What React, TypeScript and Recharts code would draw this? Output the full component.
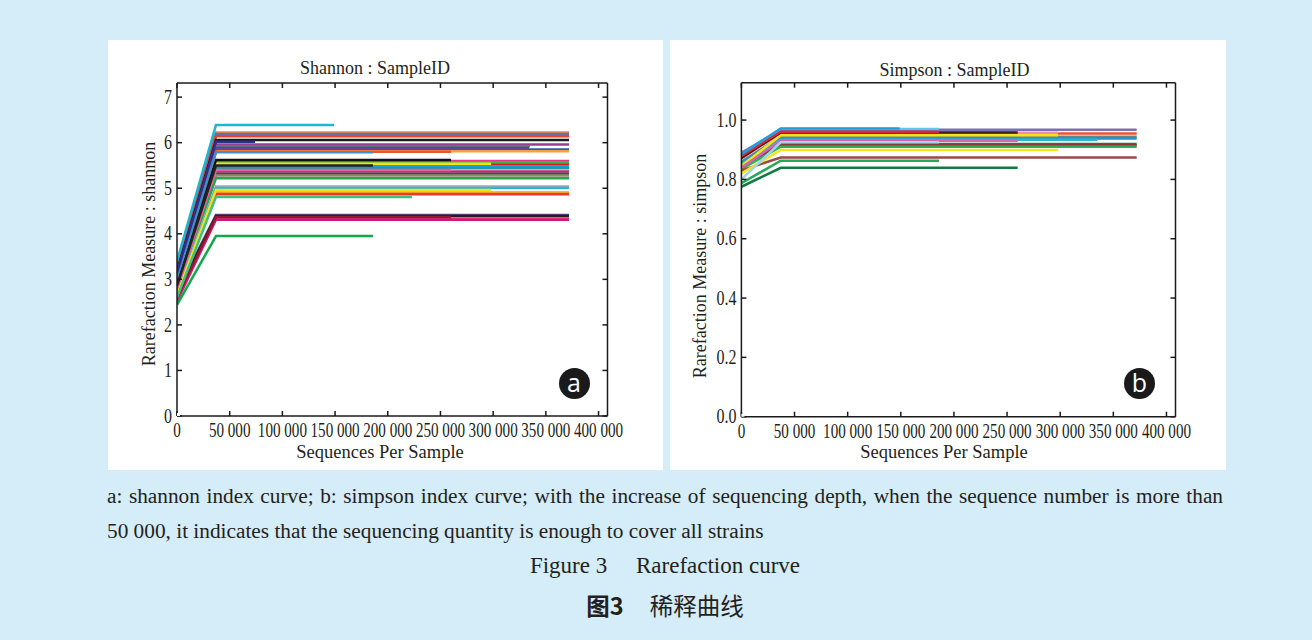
import { LineChart, Line, XAxis, YAxis } from 'recharts'

// x ticks shared by both panels
const X_TICKS = [0, 50000, 100000, 150000, 200000, 250000, 300000, 350000, 400000]
const X_DOMAIN = [0, 408500]
const FIRST_DEPTH = 37000

const SHANNON_TICKS = [0, 1, 2, 3, 4, 5, 6, 7]
const SIMPSON_TICKS = [0, 0.2, 0.4, 0.6, 0.8, 1.0]

// Shannon curves: start value, plateau value, max sequencing depth
const shannonColors = [
  '#1cb6cf', '#f08a3c', '#6b6bb5', '#e8412c', '#1a1a1a', '#2b2f8f', '#9a3d8f', '#2ca05a',
  '#6a3d9a', '#1f5fbf', '#3f8fc4', '#e8562c', '#f5a040', '#111111', '#e8358a', '#3cb44b',
  '#f2e21a', '#e31a1c', '#222222', '#1aa0d8', '#1b9e9e', '#ef5aa0', '#d0207a', '#4a4a4a',
  '#8c8c6a', '#1faa50', '#f0a0b0', '#22b8d8', '#f2e21e', '#f39a2a', '#e8392c', '#3fbf80',
  '#5a4a8a', '#2a1a1a', '#8b1a2a', '#ee3a8c', '#d01a7a', '#12a84a',
]
const shannonStart = [
  3.40, 3.30, 3.26, 3.22, 3.18, 3.15, 3.12, 3.10,
  3.07, 3.05, 3.02, 3.00, 2.98, 2.95, 2.94, 2.92,
  2.90, 2.88, 2.86, 2.84, 2.83, 2.80, 2.78, 2.76,
  2.74, 2.71, 2.70, 2.68, 2.66, 2.64, 2.62, 2.60,
  2.72, 2.66, 2.60, 2.56, 2.52, 2.44,
]
const shannonPlateau = [
  6.39, 6.225, 6.19, 6.14, 6.06, 6.02, 5.96, 5.92,
  5.89, 5.85, 5.79, 5.80, 5.81, 5.62, 5.60, 5.57,
  5.54, 5.52, 5.50, 5.47, 5.44, 5.40, 5.37, 5.32,
  5.28, 5.22, 5.045, 5.01, 4.96, 4.905, 4.87, 4.81,
  4.415, 4.39, 4.37, 4.335, 4.31, 3.95,
]
const shannonDepth = [
  149000, 372000, 372000, 372000, 372000, 74000, 372000, 335000,
  334000, 372000, 186000, 260000, 372000, 260000, 372000, 372000,
  298000, 372000, 186000, 372000, 372000, 260000, 372000, 372000,
  372000, 372000, 372000, 372000, 298000, 372000, 372000, 223000,
  372000, 372000, 260000, 372000, 372000, 186000,
]

// Simpson curves
const simpsonColors = [
  '#1ca0e0', '#5bc8f0', '#7a6fb0', '#f0502a', '#f08ab0', '#3a1a1a', '#d8283a', '#f7e11a',
  '#5a8a8a', '#2a90d0', '#2ab8c8', '#e060b0', '#1a7a4a', '#8a3a3a', '#30b050', '#f5e51e',
  '#9a4a4a', '#9ad8e8', '#22aa55', '#107a40',
]
const simpsonStart = [
  0.885, 0.88, 0.89, 0.875, 0.87, 0.872, 0.878, 0.845,
  0.86, 0.855, 0.85, 0.84, 0.85, 0.845, 0.835, 0.82,
  0.83, 0.80, 0.787, 0.775,
]
const simpsonPlateau = [
  0.972, 0.970, 0.967, 0.955, 0.957, 0.958, 0.961, 0.949,
  0.944, 0.938, 0.934, 0.930, 0.919, 0.915, 0.910, 0.899,
  0.874, 0.925, 0.863, 0.839,
]
const simpsonDepth = [
  149000, 186000, 372000, 372000, 298000, 260000, 186000, 298000,
  372000, 372000, 335000, 260000, 372000, 372000, 372000, 298000,
  372000, 186000, 186000, 260000,
]

const SERIF = '"Liberation Serif", "Times New Roman", serif'
const INK = '#231f20'

function buildSeries(colors: string[], starts: number[], plateaus: number[], depths: number[]) {
  return colors
    .map((color, i) => ({
      id: i,
      color,
      depth: depths[i],
      points: [
        { x: 0, y: starts[i] },
        { x: FIRST_DEPTH, y: plateaus[i] },
        { x: depths[i], y: plateaus[i] },
      ],
    }))
    // short curves sit on top of long ones
    .sort((a, b) => b.depth - a.depth)
}

const fmtX = (v: number) => (v === 0 ? '0' : `${v / 1000} 000`)

function XTick(props: any) {
  const { x, y, payload } = props
  return (
    <text
      transform={`translate(${x},${y}) scale(0.72,1)`}
      textAnchor="middle"
      dy="0.71em"
      fontSize={21}
      fontFamily={SERIF}
      fill={INK}
    >
      {fmtX(payload.value)}
    </text>
  )
}

function makeYTick(fmt: (v: number) => string) {
  return function YTick(props: any) {
    const { x, y, payload } = props
    return (
      <text
        transform={`translate(${x},${y}) scale(0.8,1)`}
        textAnchor="end"
        dy="0.33em"
        fontSize={20}
        fontFamily={SERIF}
        fill={INK}
      >
        {fmt(payload.value)}
      </text>
    )
  }
}

const EmptyTick = () => <g />

interface PanelProps {
  left: number
  width: number
  plot: { left: number; top: number; width: number; height: number }
  title: string
  titlePos: [number, number]
  yLabel: string
  yLabelPos: [number, number]
  xLabelPos: [number, number]
  yDomain: number[]
  yTicks: number[]
  yFmt: (v: number) => string
  series: ReturnType<typeof buildSeries>
  badge: string
  badgePos: [number, number]
}

const PANEL_TOP = 40
const PANEL_H = 430

function Panel(p: PanelProps) {
  const axisStroke = { stroke: '#1a1a1a', strokeWidth: 1.5 }
  const YTick = makeYTick(p.yFmt)
  // anchor point so the mirrored top/right axes get drawn
  const frameAnchor = [{ x: 0, y: 0 }]
  return (
    <div style={{ position: 'absolute', left: p.left, top: PANEL_TOP, width: p.width, height: PANEL_H, background: '#fff' }}>
      <LineChart
        width={p.width}
        height={PANEL_H}
        margin={{ top: p.plot.top - 1, left: 0, bottom: 0, right: p.width - p.plot.left - p.plot.width - 1 }}
      >
        <XAxis
          dataKey="x"
          type="number"
          domain={X_DOMAIN}
          ticks={X_TICKS}
          allowDataOverflow
          height={PANEL_H - p.plot.top - p.plot.height}
          axisLine={axisStroke}
          tickLine={axisStroke}
          tickSize={-5}
          tickMargin={11}
          tick={<XTick />}
          interval={0}
        />
        <XAxis
          xAxisId="top"
          dataKey="x"
          orientation="top"
          type="number"
          domain={X_DOMAIN}
          ticks={X_TICKS}
          allowDataOverflow
          height={1}
          axisLine={axisStroke}
          tickLine={axisStroke}
          tickSize={-5}
          tick={<EmptyTick />}
          interval={0}
        />
        <YAxis
          type="number"
          domain={p.yDomain}
          ticks={p.yTicks}
          allowDataOverflow
          width={p.plot.left}
          axisLine={axisStroke}
          tickLine={axisStroke}
          tickSize={-5}
          tickMargin={10}
          tick={<YTick />}
          interval={0}
        />
        <YAxis
          yAxisId="right"
          orientation="right"
          type="number"
          domain={p.yDomain}
          ticks={p.yTicks}
          allowDataOverflow
          width={1}
          axisLine={axisStroke}
          tickLine={axisStroke}
          tickSize={-5}
          tick={<EmptyTick />}
          interval={0}
        />
        <Line
          xAxisId="top"
          yAxisId="right"
          data={frameAnchor}
          dataKey="y"
          stroke="none"
          dot={false}
          activeDot={false}
          isAnimationActive={false}
        />
        {p.series.map(s => (
          <Line
            key={s.id}
            data={s.points}
            dataKey="y"
            type="linear"
            stroke={s.color}
            strokeWidth={2.5}
            dot={false}
            activeDot={false}
            isAnimationActive={false}
          />
        ))}
      </LineChart>

      <div style={{ position: 'absolute', left: p.titlePos[0], top: p.titlePos[1], transform: 'translate(-50%,-50%)', whiteSpace: 'nowrap', fontFamily: SERIF, fontSize: 18, color: INK }}>
        {p.title}
      </div>
      <div style={{ position: 'absolute', left: p.yLabelPos[0], top: p.yLabelPos[1], transform: 'translate(-50%,-50%) rotate(-90deg)', whiteSpace: 'nowrap', fontFamily: SERIF, fontSize: 18, color: INK }}>
        {p.yLabel}
      </div>
      <div style={{ position: 'absolute', left: p.xLabelPos[0], top: p.xLabelPos[1], transform: 'translate(-50%,-50%)', whiteSpace: 'nowrap', fontFamily: SERIF, fontSize: 18.5, color: INK }}>
        Sequences Per Sample
      </div>
      <div style={{ position: 'absolute', left: p.badgePos[0] - 15.5, top: p.badgePos[1] - 15.5, width: 31, height: 31, borderRadius: '50%', background: '#1a1a1a', color: '#fff', fontFamily: '"Open Sans", sans-serif', fontSize: 25, fontWeight: 500, lineHeight: '29px', textAlign: 'center' }}>
        {p.badge}
      </div>
    </div>
  )
}

export default function App() {
  const shannon = buildSeries(shannonColors, shannonStart, shannonPlateau, shannonDepth)
  const simpson = buildSeries(simpsonColors, simpsonStart, simpsonPlateau, simpsonDepth)

  return (
    <div style={{ position: 'relative', width: 1312, height: 640, background: '#d5ecf9', overflow: 'hidden' }}>
      <style>{'body{margin:0}'}</style>
      <Panel
        left={108}
        width={555}
        plot={{ left: 69, top: 43, width: 430.5, height: 333 }}
        title="Shannon : SampleID"
        titlePos={[267, 28]}
        yLabel="Rarefaction Measure : shannon"
        yLabelPos={[41, 214]}
        xLabelPos={[272, 412]}
        yDomain={[0, 7.31]}
        yTicks={SHANNON_TICKS}
        yFmt={v => String(v)}
        series={shannon}
        badge="a"
        badgePos={[466, 343]}
      />
      <Panel
        left={670}
        width={556}
        plot={{ left: 71.4, top: 42.7, width: 434.1, height: 334 }}
        title="Simpson : SampleID"
        titlePos={[284.5, 30]}
        yLabel="Rarefaction Measure : simpson"
        yLabelPos={[29.5, 226]}
        xLabelPos={[274, 412]}
        yDomain={[0, 1.126]}
        yTicks={SIMPSON_TICKS}
        yFmt={v => v.toFixed(1)}
        series={simpson}
        badge="b"
        badgePos={[469.5, 343]}
      />

      <div style={{ position: 'absolute', left: 107, top: 479, width: 1116, fontFamily: SERIF, fontSize: 21.3, lineHeight: '35px', textAlign: 'justify', color: INK }}>
        {'a: shannon index curve; b: simpson index curve; with the increase of sequencing depth, when the sequence number is more than 50\u00a0000, it indicates that the sequencing quantity is enough to cover all strains'}
      </div>
      <div style={{ position: 'absolute', left: 107, top: 553, width: 1116, textAlign: 'center', fontFamily: SERIF, fontSize: 23, color: INK, whiteSpace: 'pre' }}>
        {'Figure 3     Rarefaction curve'}
      </div>
      <div style={{ position: 'absolute', left: 107, top: 588, width: 1116, textAlign: 'center', fontFamily: '"Noto Sans CJK SC", sans-serif', fontSize: 23.5, color: INK, whiteSpace: 'pre' }}>
        <span style={{ fontWeight: 700 }}>图3</span>{'     稀释曲线'}
      </div>
    </div>
  )
}
